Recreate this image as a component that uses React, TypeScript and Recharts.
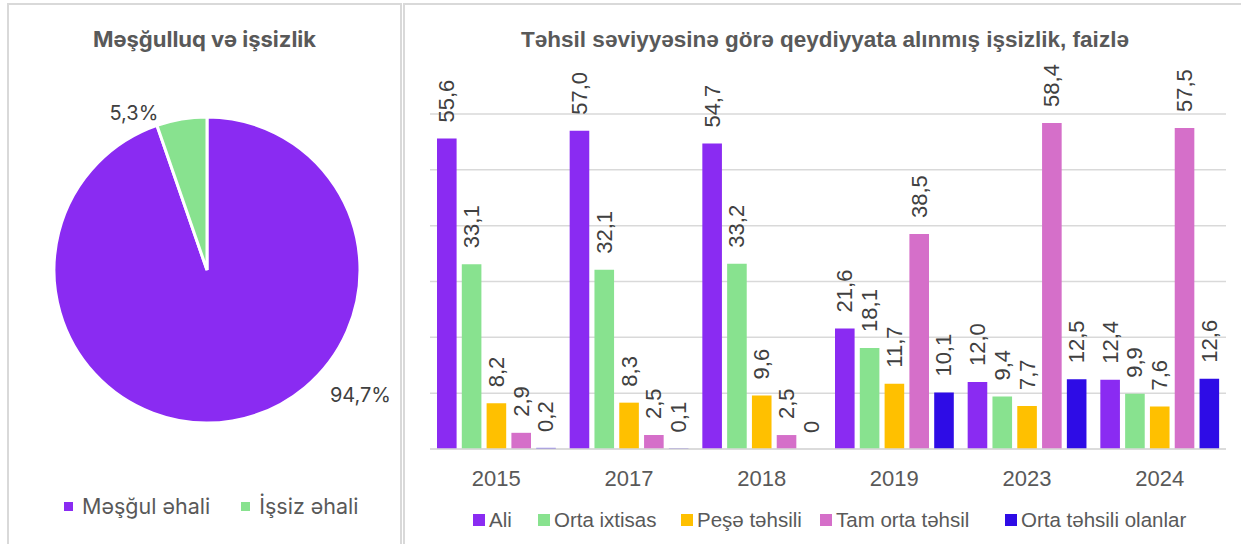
import React from "react";
import { PieChart, Pie, Cell, BarChart, Bar, XAxis, YAxis, CartesianGrid, LabelList } from "recharts";

// ---- Pie data ----
const pieNames = ["Məşğul əhali", "İşsiz əhali"];
const pieValues = [94.7, 5.3];
const pieColors = ["#8A2BF2", "#88E28F"];

// ---- Bar data ----
const years = ["2015", "2017", "2018", "2019", "2023", "2024"];
const ali = [55.6, 57.0, 54.7, 21.6, 12.0, 12.4];
const ortaIxtisas = [33.1, 32.1, 33.2, 18.1, 9.4, 9.9];
const pese = [8.2, 8.3, 9.6, 11.7, 7.7, 7.6];
const tamOrta = [2.9, 2.5, 2.5, 38.5, 58.4, 57.5];
const ortaTehsili = [0.2, 0.1, 0, 10.1, 12.5, 12.6];
const seriesNames = ["Ali", "Orta ixtisas", "Peşə təhsili", "Tam orta təhsil", "Orta təhsili olanlar"];
const seriesKeys = ["ali", "ortaIxtisas", "pese", "tamOrta", "ortaTehsili"];
const seriesColors = ["#8A2BF2", "#88E28F", "#FFC000", "#D56FC9", "#2E0CE6"];
const yTicks = [0, 10, 20, 30, 40, 50, 60];

// legend item widths (style)
const legendItemWidths = [65, 143, 139, 185, 190];

const barData = years.map((y, i) => ({
  year: y,
  ali: ali[i],
  ortaIxtisas: ortaIxtisas[i],
  pese: pese[i],
  tamOrta: tamOrta[i],
  ortaTehsili: ortaTehsili[i],
}));
const pieData = pieNames.map((n, i) => ({ name: n, value: pieValues[i] }));

// label placement style (angle in degrees, distance from center)
const pieLabelStyle = [
  { angle: -39.2, dist: 198 },
  { angle: 115, dist: 173 },
];

const fmt = (v: number) => (v === 0 ? "0" : v.toFixed(1).replace(".", ","));

const ARIAL = "'Liberation Sans', Arial, sans-serif";
const INTER = "Inter, 'Noto Sans', sans-serif";

const PieLabel = (props: any) => {
  const { cx, cy, index, percent } = props;
  const s = pieLabelStyle[index];
  const a = (s.angle * Math.PI) / 180;
  const x = cx + s.dist * Math.cos(a);
  const y = cy - s.dist * Math.sin(a);
  return (
    <text x={x} y={y} textAnchor="middle" dominantBaseline="central" fill="#404040" fontSize={20} fontFamily={INTER}>
      {(percent * 100).toFixed(1).replace(".", ",") + "%"}
    </text>
  );
};

const BarLabel = (props: any) => {
  const { x, y, width, value } = props;
  if (value === undefined || value === null) return null;
  const tx = Number(x) + Number(width) / 2;
  const ty = Number(y) - 16;
  return (
    <text
      x={tx}
      y={ty}
      transform={`rotate(-90 ${tx} ${ty})`}
      textAnchor="start"
      dominantBaseline="central"
      fill="#404040"
      fontSize={22}
      fontFamily={ARIAL}
    >
      {fmt(Number(value))}
    </text>
  );
};

const YearTick = (props: any) => {
  const { x, y, payload } = props;
  return (
    <text x={x} y={y + 21} textAnchor="middle" dominantBaseline="central" fill="#595959" fontSize={22} fontFamily={ARIAL}>
      {payload.value}
    </text>
  );
};

export default function App() {
  return (
    <div style={{ position: "absolute", left: 0, top: 0, width: 1241, height: 544, overflow: "hidden", background: "#fff" }}>
      {/* Left panel */}
      <div
        style={{
          position: "absolute",
          left: 7,
          top: 3,
          width: 395,
          height: 600,
          border: "2px solid #d9d9d9",
          boxSizing: "border-box",
        }}
      />
      {/* Right panel */}
      <div
        style={{
          position: "absolute",
          left: 403,
          top: 3,
          width: 900,
          height: 600,
          border: "2px solid #d9d9d9",
          boxSizing: "border-box",
        }}
      />
      <div
        style={{
          position: "absolute",
          left: 8,
          top: 26,
          width: 393,
          textAlign: "center",
          fontFamily: INTER,
          fontWeight: 700,
          fontSize: 22,
          color: "#595959",
        }}
      >
        Məşğulluq və işsizlik
      </div>
      <div style={{ position: "absolute", left: 8, top: 4 }}>
        <PieChart width={393} height={540} margin={{ top: 0, right: 0, bottom: 0, left: 0 }}>
          <Pie
            data={pieData}
            dataKey="value"
            nameKey="name"
            cx={199}
            cy={266}
            outerRadius={153}
            startAngle={90}
            endAngle={-270}
            stroke="#ffffff"
            strokeWidth={3}
            isAnimationActive={false}
            label={PieLabel}
            labelLine={false}
          >
            {pieData.map((d, i) => (
              <Cell key={d.name} fill={pieColors[i]} />
            ))}
          </Pie>
        </PieChart>
      </div>
      {/* Left legend */}
      <div
        style={{
          position: "absolute",
          left: 64,
          top: 493,
          display: "flex",
          alignItems: "center",
          fontFamily: INTER,
          fontSize: 21.5,
          color: "#595959",
          whiteSpace: "nowrap",
        }}
      >
        {pieNames.map((n, i) => (
          <div key={n} style={{ display: "flex", alignItems: "center", marginRight: 31 }}>
            <span style={{ width: 9, height: 9, background: pieColors[i], display: "inline-block", marginRight: 9 }} />
            <span>{n}</span>
          </div>
        ))}
      </div>

      {/* Right title */}
      <div
        style={{
          position: "absolute",
          left: 425,
          top: 27,
          width: 800,
          textAlign: "center",
          fontFamily: ARIAL,
          fontWeight: 700,
          fontSize: 22.5,
          color: "#595959",
        }}
      >
        Təhsil səviyyəsinə görə qeydiyyata alınmış işsizlik, faizlə
      </div>
      <div style={{ position: "absolute", left: 403, top: 0 }}>
        <BarChart
          width={838}
          height={544}
          data={barData}
          margin={{ top: 114, right: 15, bottom: 65, left: 27 }}
          barSize={19.6}
          barGap={5.2}
        >
          <CartesianGrid vertical={false} stroke="#d9d9d9" strokeWidth={1.5} />
          <XAxis
            dataKey="year"
            height={30}
            tickLine={false}
            axisLine={{ stroke: "#d9d9d9", strokeWidth: 1.5 }}
            tick={YearTick}
            interval={0}
          />
          <YAxis hide domain={[0, 60]} ticks={yTicks} />
          {seriesKeys.map((k, i) => (
            <Bar
              key={k}
              dataKey={k}
              name={seriesNames[i]}
              fill={seriesColors[i]}
              minPointSize={0.01}
              isAnimationActive={false}
            >
              <LabelList dataKey={k} content={BarLabel} />
            </Bar>
          ))}
        </BarChart>
      </div>
      {/* Right legend */}
      <div
        style={{
          position: "absolute",
          left: 473,
          top: 508,
          display: "flex",
          alignItems: "center",
          fontFamily: ARIAL,
          fontSize: 20.5,
          color: "#595959",
          whiteSpace: "nowrap",
        }}
      >
        {seriesNames.map((n, i) => (
          <div key={n} style={{ display: "flex", alignItems: "center", width: legendItemWidths[i] }}>
            <span style={{ width: 12, height: 12, background: seriesColors[i], display: "inline-block", marginRight: 4 }} />
            <span>{n}</span>
          </div>
        ))}
      </div>
    </div>
  );
}
